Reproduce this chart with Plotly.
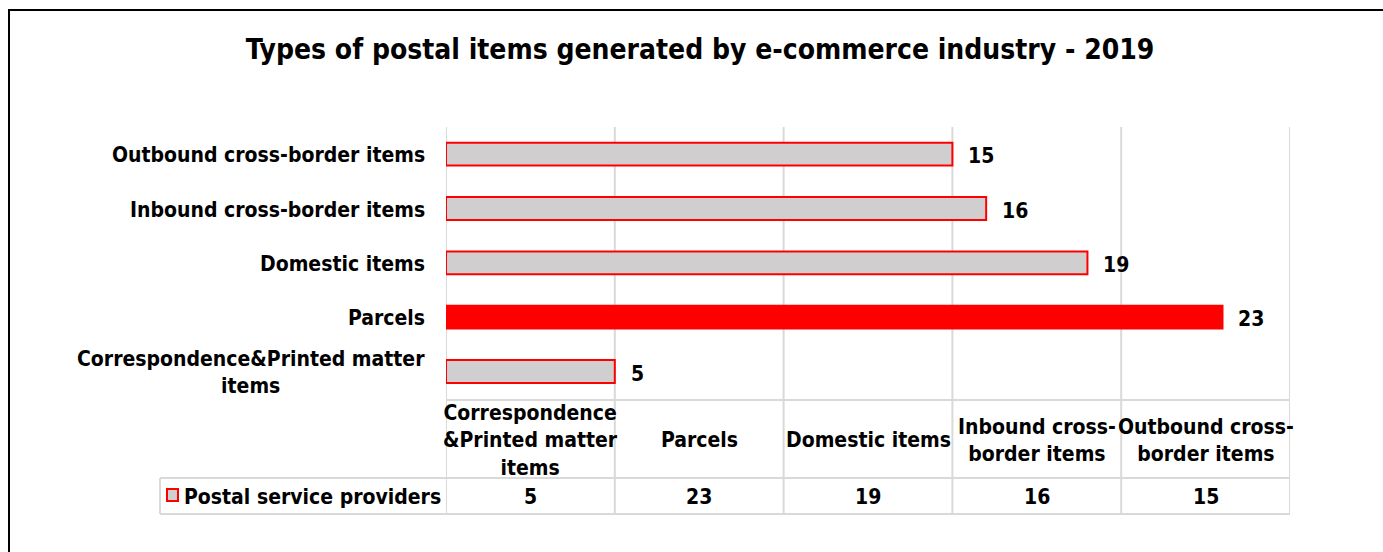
import plotly.graph_objects as go

# ---------------- data ----------------
categories = [
    "Correspondence&Printed matter items",
    "Parcels",
    "Domestic items",
    "Inbound cross-border items",
    "Outbound cross-border items",
]
values = [5, 23, 19, 16, 15]
axis_labels = [
    "Correspondence&Printed matter<br>items",
    "Parcels",
    "Domestic items",
    "Inbound cross-border items",
    "Outbound cross-border items",
]
table_headers = [
    "Correspondence<br>&Printed matter<br>items",
    "Parcels",
    "Domestic items",
    "Inbound cross-<br>border items",
    "Outbound cross-<br>border items",
]
series_name = "Postal service providers"
highlight = "Parcels"
title_text = "Types of postal items generated by e-commerce industry - 2019"
x_max = 25
x_step = 5

# ---------------- layout geometry (pixels) ----------------
W, H = 1383, 552
L, R, T, B = 446, 1290, 127, 400


def px_x(p):
    return (p - L) / (R - L)


def px_y(p):
    return (B - p) / (B - T)


FONT = "DejaVu Sans Condensed, DejaVu Sans"
FS = 21
GRID = "#D9D9D9"
GRAY = "#D0CECE"
RED = "#FF0000"
TXT = "#000000"

colors = [RED if c == highlight else GRAY for c in categories]

fig = go.Figure()
fig.add_trace(go.Bar(
    y=categories,
    x=values,
    orientation="h",
    width=0.42,
    marker=dict(color=colors, line=dict(color=RED, width=2)),
    name=series_name,
    showlegend=False,
    hoverinfo="x+y",
))

annotations = []
# category labels (left)
for c, lab in zip(categories, axis_labels):
    annotations.append(dict(
        x=0, xref="x", y=c, yref="y", text=lab, showarrow=False,
        xanchor="right", yanchor="middle", xshift=-19, yshift=-1, align="center",
        font=dict(family=FONT, size=FS, color=TXT, weight="bold"),
    ))
# data labels
for c, v in zip(categories, values):
    annotations.append(dict(
        x=v, xref="x", y=c, yref="y", text=str(v), showarrow=False,
        xanchor="left", yanchor="middle", xshift=14, yshift=-2,
        font=dict(family=FONT, size=FS, color=TXT, weight="bold"),
    ))

# data table
col_w = x_max / len(categories)
for i, (hdr, v) in enumerate(zip(table_headers, values)):
    xc = (i + 0.5) * col_w
    annotations.append(dict(
        x=xc, xref="x", y=px_y(440), yref="paper", text=hdr, showarrow=False,
        xanchor="center", yanchor="middle", align="center",
        font=dict(family=FONT, size=FS, color=TXT, weight="bold"),
    ))
    annotations.append(dict(
        x=xc, xref="x", y=px_y(497), yref="paper", text=str(v), showarrow=False,
        xanchor="center", yanchor="middle",
        font=dict(family=FONT, size=FS, color=TXT, weight="bold"),
    ))
# legend key text
annotations.append(dict(
    x=px_x(182), xref="paper", y=px_y(497), yref="paper", text=series_name,
    showarrow=False, xanchor="left", yanchor="middle",
    font=dict(family=FONT, size=FS, color=TXT, weight="bold"),
))

shapes = []
tb = px_y(514)
tm = px_y(478)
legend_left = px_x(160)
# vertical grid / table lines
for k in range(0, x_max + 1, x_step):
    shapes.append(dict(type="line", xref="x", yref="paper", x0=k, x1=k,
                       y0=tb, y1=1, line=dict(color=GRID, width=2), layer="below"))
# horizontal table lines
shapes.append(dict(type="line", xref="paper", yref="paper", x0=0, x1=1,
                   y0=0, y1=0, line=dict(color=GRID, width=2), layer="below"))
shapes.append(dict(type="line", xref="paper", yref="paper", x0=legend_left, x1=1,
                   y0=tm, y1=tm, line=dict(color=GRID, width=2), layer="below"))
shapes.append(dict(type="line", xref="paper", yref="paper", x0=legend_left, x1=1,
                   y0=tb, y1=tb, line=dict(color=GRID, width=2), layer="below"))
shapes.append(dict(type="line", xref="paper", yref="paper", x0=legend_left, x1=legend_left,
                   y0=tb, y1=tm, line=dict(color=GRID, width=2), layer="below"))
# legend key square
shapes.append(dict(type="rect", xref="paper", yref="paper",
                   x0=px_x(167), x1=px_x(178), y0=px_y(501), y1=px_y(489),
                   fillcolor=GRAY, line=dict(color=RED, width=2)))
# outer frame
shapes.append(dict(type="rect", xref="paper", yref="paper",
                   x0=px_x(9), x1=px_x(1400), y0=px_y(570), y1=px_y(10),
                   line=dict(color="#000000", width=2)))

fig.update_layout(
    width=W, height=H,
    margin=dict(l=L, r=W - R, t=T, b=H - B, pad=0),
    paper_bgcolor="white", plot_bgcolor="white",
    title=dict(text=title_text, x=700 / W, xanchor="center",
               y=1 - 49 / H, yanchor="middle", yref="container",
               font=dict(family=FONT, size=28, color=TXT, weight="bold")),
    xaxis=dict(range=[0, x_max], showgrid=False, zeroline=False,
               showticklabels=False, showline=False, fixedrange=True),
    yaxis=dict(categoryorder="array", categoryarray=categories,
               showgrid=False, zeroline=False, showticklabels=False,
               showline=False, fixedrange=True),
    annotations=annotations,
    shapes=shapes,
    showlegend=False,
)

fig.write_html("out.html")
